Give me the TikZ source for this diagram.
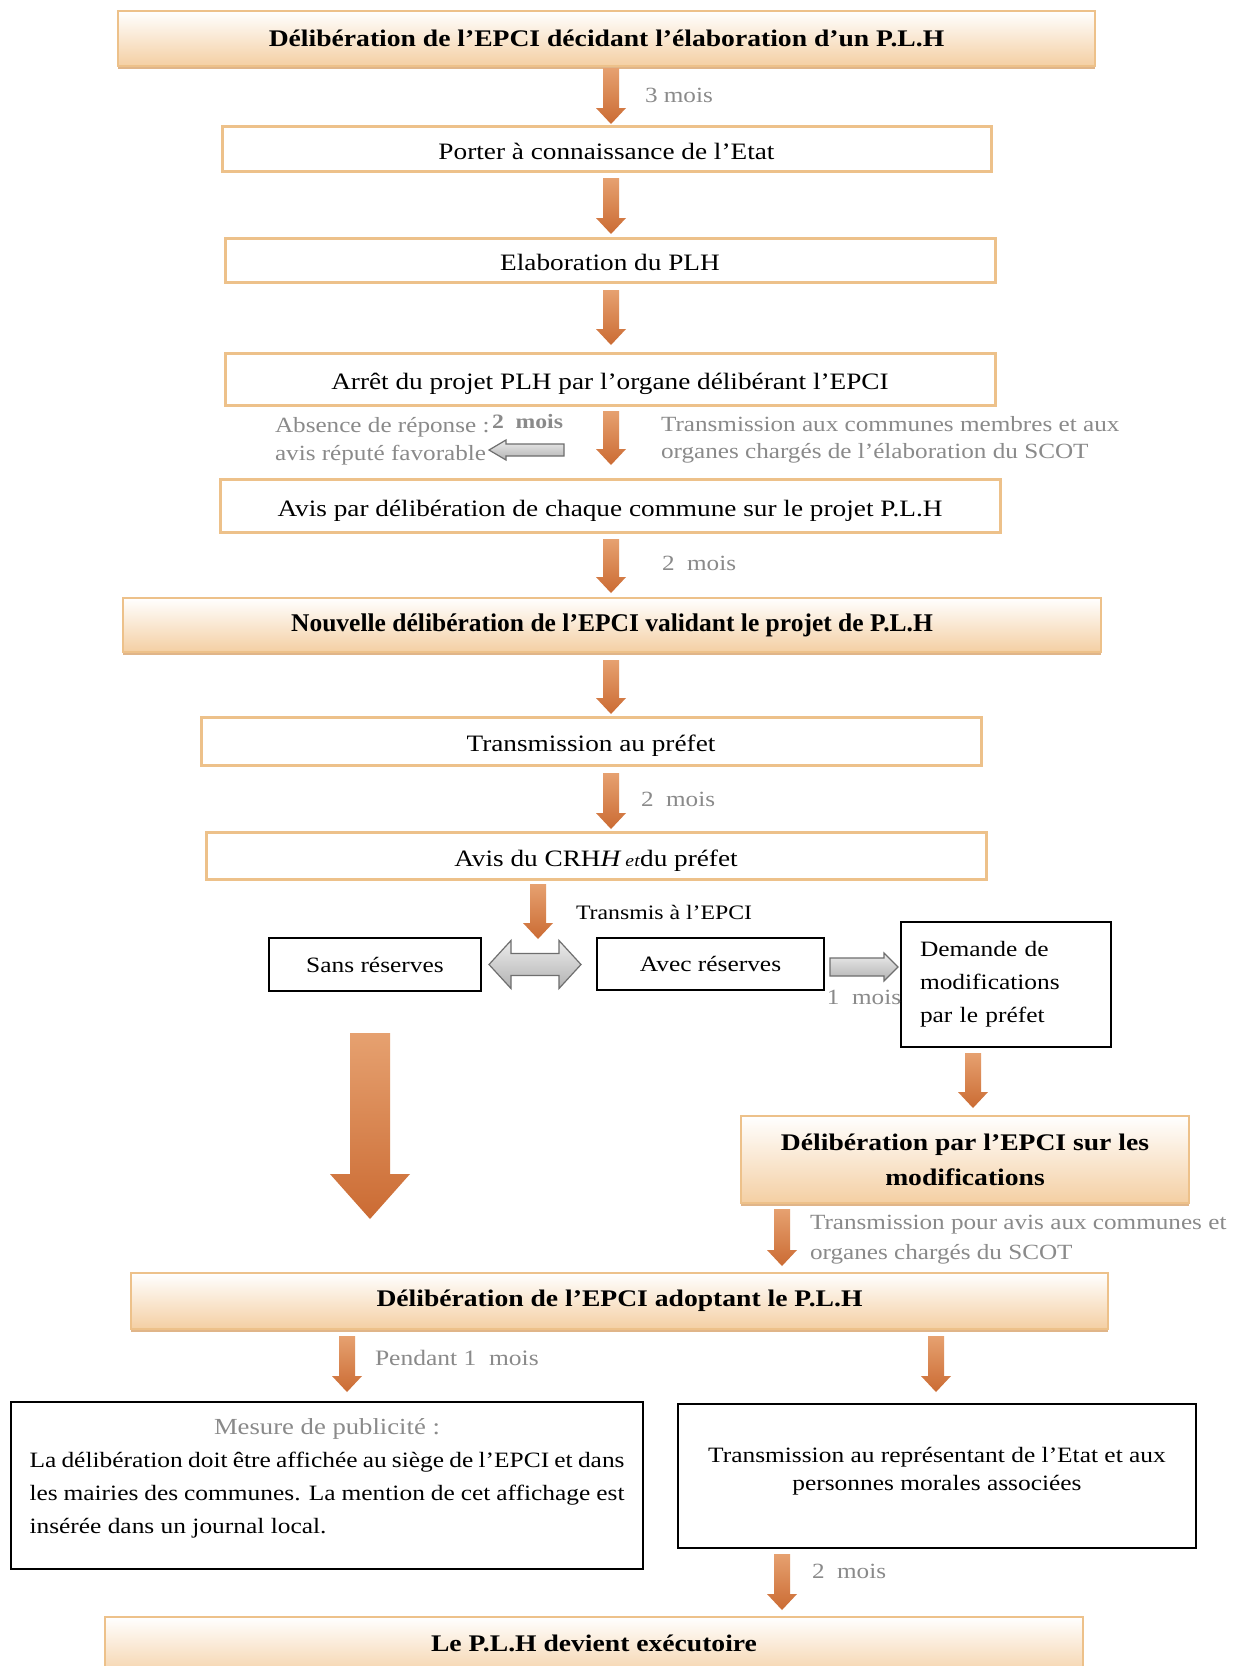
\documentclass[tikz,border=0pt]{standalone}
\usepackage{fontspec}
\setmainfont{Liberation Serif}[FakeStretch=1.16]
\newfontfamily\timesfont{Liberation Serif}
\usetikzlibrary{shadows,calc}
\definecolor{boxor}{HTML}{EDC18A}
\definecolor{gradbot}{HTML}{F4CFA3}
\definecolor{shadowor}{HTML}{D9A36C}
\definecolor{otop}{HTML}{E6A170}
\definecolor{obot}{HTML}{CB6B33}
\definecolor{greytxt}{HTML}{8A8A8A}
\definecolor{garrowdk}{HTML}{6E6E6E}
\tikzset{
 every node/.style={inner sep=0pt, outer sep=0pt},
 plainbox/.style={draw=boxor, line width=3pt, fill=white, rectangle},
 gradbox/.style={draw=boxor, line width=2.5pt, top color=white, bottom color=gradbot,
   drop shadow={fill=shadowor, opacity=0.8, shadow xshift=0pt, shadow yshift=-3pt}},
 blackbox/.style={draw=black, line width=1.8pt, fill=white},
 maintxt/.style={font=\fontsize{23.5}{28}\selectfont, text height=25pt, text depth=4pt},
 boldtxt/.style={font=\fontsize{23.8}{35}\selectfont\bfseries},
 timesbold/.style={font=\fontsize{25.5}{30}\selectfont\timesfont\bfseries},
 smalltxt/.style={font=\fontsize{21.9}{33}\selectfont},
 greylab/.style={font=\fontsize{21.7}{29}\selectfont, text=greytxt, anchor=west},
 oarrow/.style={top color=otop, bottom color=obot, draw=none},
 garr/.style={draw=garrowdk, line width=1.2pt, top color=gray!15, bottom color=gray!60},
}
\newcommand\bx[7]{\node[#1, minimum width={#5pt-#3pt}, minimum height={#6pt-#4pt}] (#2) at ({(#3+#5)/2},{(#4+#6)/2}) {#7};}
% from node, to node, x, top gap, bottom gap, half shaft, half head, head length
\newcommand\blockdown[8]{%
 \shade[oarrow] let \p1=(#1.south), \p2=(#2.north) in
  ({#3pt-#6pt},{\y1-#4pt}) -- ({#3pt+#6pt},{\y1-#4pt}) -- ({#3pt+#6pt},{\y2+#5pt+#8pt})
  -- ({#3pt+#7pt},{\y2+#5pt+#8pt}) -- ({#3pt},{\y2+#5pt}) -- ({#3pt-#7pt},{\y2+#5pt+#8pt})
  -- ({#3pt-#6pt},{\y2+#5pt+#8pt}) -- cycle;}
\begin{document}
\begin{tikzpicture}[x=1pt,y=-1pt]
\useasboundingbox (0,0) rectangle (1241,1666);
\fill[white] (0,0) rectangle (1241,1666);

% boxes
\bx{gradbox,boldtxt}{b1}{118}{11}{1095}{66}{Délibération de l’EPCI décidant l’élaboration d’un P.L.H}
\bx{plainbox,maintxt}{b2}{222}{126}{991}{171}{Porter à connaissance de l’Etat}
\bx{plainbox,maintxt}{b3}{225}{238}{995}{282}{Elaboration du PLH}
\bx{plainbox,maintxt}{b4}{225}{353}{995}{405}{Arrêt du projet PLH par l’organe délibérant l’EPCI}
\bx{plainbox,maintxt}{b5}{220}{479}{1000}{532}{Avis par délibération de chaque commune sur le projet P.L.H}
\bx{gradbox,timesbold}{b6}{123}{598}{1101}{652}{Nouvelle délibération de l’EPCI validant le projet de P.L.H}
\bx{plainbox,maintxt}{b7}{201}{717}{981}{765}{Transmission au préfet}
\bx{plainbox,maintxt}{b8}{206}{832}{986}{879}{Avis du CRH\textit{H}\,{\fontsize{17}{17}\selectfont\textit{et}}du préfet}
\bx{blackbox,smalltxt}{sans}{269}{938}{481}{991}{Sans réserves}
\bx{blackbox,smalltxt}{avec}{597}{938}{824}{990}{Avec réserves}
\bx{blackbox,smalltxt,align=left,text width=172pt}{dem}{901}{922}{1111}{1047}{Demande de\\modifications\\par le préfet}
\bx{gradbox,boldtxt,align=center}{b12}{741}{1116}{1189}{1203}{Délibération par l’EPCI sur les\\modifications}
\bx{gradbox,boldtxt}{b13}{131}{1273}{1108}{1329}{Délibération de l’EPCI adoptant le P.L.H}
\bx{blackbox}{pub}{11}{1402}{643}{1569}{}
\bx{blackbox}{trans}{678}{1404}{1196}{1548}{}
\bx{gradbox}{b16}{105}{1617}{1083}{1680}{}
\node[boldtxt] (b16t) at (594,1643) {Le P.L.H devient exécutoire};

\node[smalltxt, text width=595pt, align=justify] (pubtxt) at (327,1478) {%
\makebox[595pt]{\fontsize{23}{33}\selectfont\color{greytxt}Mesure de publicité :}\par
\noindent La délibération doit être affichée au siège de l’EPCI et dans\linebreak
les mairies des communes. La mention de cet affichage est\linebreak
insérée dans un journal local.};
\node[smalltxt, align=center, font=\fontsize{21.9}{28}\selectfont] (transtxt) at (937,1471)
 {Transmission au représentant de l’Etat et aux\\personnes morales associées};

\node[inner sep=0pt, minimum size=0pt] (trp) at (538,940) {};

% orange arrows
\blockdown{b1}{b2}{611}{2}{2}{8}{15}{16}
\blockdown{b2}{b3}{611}{7}{4}{8}{15}{16}
\blockdown{b3}{b4}{611}{8}{8}{8}{15}{16}
\blockdown{b4}{b5}{611}{6}{14}{8}{15}{16}
\blockdown{b5}{b6}{611}{7}{5}{8}{15}{16}
\blockdown{b6}{b7}{611}{8}{3}{8}{15}{16}
\blockdown{b7}{b8}{611}{8}{3}{8}{15}{16}
\blockdown{b8}{trp}{538}{5}{1}{8}{15}{16}
\blockdown{sans}{b13}{370}{42}{54}{20}{40}{45}
\blockdown{dem}{b12}{973}{6}{8}{8}{15}{16}
\blockdown{b12}{b13}{782}{6}{7}{8}{15}{16}
\blockdown{b13}{pub}{347}{7}{10}{8}{15}{16}
\blockdown{b13}{trans}{936}{7}{12}{8}{15}{16}
\blockdown{trans}{b16}{782}{6}{7}{8}{15}{16}

% grey arrows
\coordinate (lt) at (489,450);
\shade[garr] (lt) -- ++(17,-10) -- ++(0,4) -- ++(58,0) -- ++(0,12) -- ++(-58,0) -- ++(0,4) -- cycle;
\shade[garr] let \p1=(sans.east), \p2=(avec.west) in
 ({\x1+8pt},{\y1}) -- ({\x1+30pt},{\y1+24pt}) -- ({\x1+30pt},{\y1+11pt}) -- ({\x2-38pt},{\y1+11pt})
 -- ({\x2-38pt},{\y1+24pt}) -- ({\x2-16pt},{\y1}) -- ({\x2-38pt},{\y1-24pt}) -- ({\x2-38pt},{\y1-11pt})
 -- ({\x1+30pt},{\y1-11pt}) -- ({\x1+30pt},{\y1-24pt}) -- cycle;
\shade[garr] let \p1=(avec.east), \p2=(dem.west) in
 ({\x1+6pt},{\y1+6pt}) -- ({\x2-17pt},{\y1+6pt}) -- ({\x2-17pt},{\y1+11pt}) -- ({\x2-3pt},{\y1-3pt})
 -- ({\x2-17pt},{\y1-17pt}) -- ({\x2-17pt},{\y1-12pt}) -- ({\x1+6pt},{\y1-12pt}) -- cycle;

% labels
\node[greylab] (l1) at (645,95) {3 mois};
\node[greylab] (abs1) at (275,427) {Absence de réponse :};
\node[greylab] (abs2) at (275,455) {avis réputé favorable};
\node[greylab, font=\fontsize{20.4}{24}\selectfont\bfseries] (l2) at (492,422) {2\ \ mois};
\node[greylab] (tc1) at (661,424) {Transmission aux communes membres et aux};
\node[greylab] (tc2) at (661,453) {organes chargés de l’élaboration du SCOT};
\node[greylab] (l3) at (662,563) {2\ \ mois};
\node[greylab] (l4) at (641,799) {2\ \ mois};
\node[anchor=west, font=\fontsize{20.5}{24}\selectfont] (tre) at (576,912) {Transmis à l’EPCI};
\node[greylab, anchor=center] (l5) at (864,997) {1\ \ mois};
\node[greylab] (tp1) at (810,1225) {Transmission pour avis aux communes et};
\node[greylab] (tp2) at (810,1254) {organes chargés du SCOT};
\node[greylab, font=\fontsize{22}{26}\selectfont] (l6) at (375,1358) {Pendant 1\ \ mois};
\node[greylab] (l7) at (812,1571) {2\ \ mois};
\end{tikzpicture}
\end{document}
